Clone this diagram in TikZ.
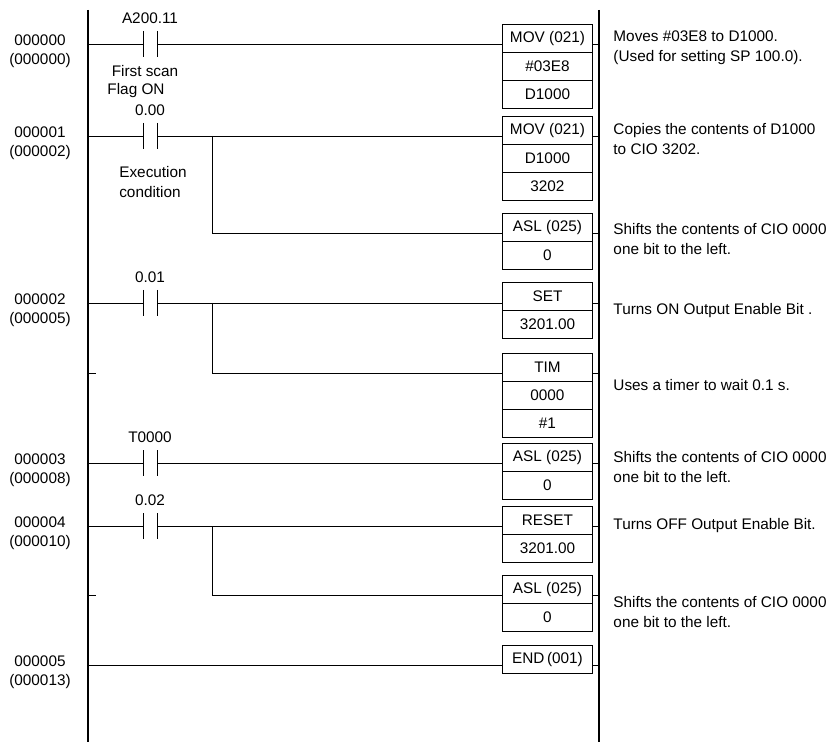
\documentclass[tikz,border=0pt]{standalone}
\usepackage{fontspec}
\setmainfont{Liberation Sans}
\usetikzlibrary{calc}

\tikzset{
	cell/.style={draw, minimum width=67.5pt, minimum height=21pt, inner sep=0pt, anchor=north west},
	note/.style={anchor=west, align=left, inner sep=0pt},
	wire/.style={line width=0.8pt}
}

\begin{document}
\begin{tikzpicture}[x=0.75pt, y=-0.75pt, font=\fontsize{11.5}{15}\selectfont, line width=0.7pt]
	\useasboundingbox (0,0) rectangle (831,748);
	% power rails
	\coordinate (lt) at (88,10);  \coordinate (lb) at (88,742);
	\coordinate (rt) at (599,10); \coordinate (rb) at (599,742);
	\draw[wire] (lt) -- (lb);
	\draw[wire] (rt) -- (rb);
	% instruction cells
	\foreach \top/\txt [count=\i] in {24/MOV (021), 52/\#03E8, 80/D1000,
		116/MOV (021), 144/D1000, 172/3202, 213/ASL (025), 241/0,
		282/SET, 310/3201.00, 353/TIM, 381/0000, 409/\#1, 443/ASL (025), 471/0,
		506/RESET, 534/3201.00, 575/ASL (025), 603/0, 645/END\,(001)}{
		\node[cell] (cell\i) at (502,\top) {\txt};
	}
	% rungs with a contact
	\foreach \y/\lbl/\num/\old in {44/A200.11/000000/000000, 136/0.00/000001/000002,
		303/0.01/000002/000005, 463/T0000/000003/000008, 526/0.02/000004/000010}{
		\coordinate (r) at (88,\y);
		\coordinate (ka) at (143,\y);
		\coordinate (kb) at (157,\y);
		\coordinate (b) at (502,\y);
		\draw (r) -- (ka);
		\draw (kb) -- (b);
		\draw ($(ka)+(0,-13)$) -- ($(ka)+(0,13)$);
		\draw ($(kb)+(0,-13)$) -- ($(kb)+(0,13)$);
		\node (lbl) at (150,\y-26) {\lbl};
		\node (num) at (40,\y-4) {\num};
		\node (old) at (40,\y+17) {(\old)};
	}
	% END rung
	\coordinate (e) at (88,665);
	\draw (e) -- (e -| cell20.west);
	\node at (40,661) {000005};
	\node at (40,682) {(000013)};
	% branches
	\foreach \ya/\yb in {136/233, 303/373, 526/595}{
		\coordinate (s) at (212,\ya);
		\coordinate (t) at (212,\yb);
		\draw (s) -- (t) -- (502,\yb);
	}
	\draw (88,373) -- (96,373);
	\draw (88,595) -- (96,595);
	% right stubs
	\foreach \y in {44,136,233,303,373,463,526,595,665}{
		\draw (592,\y) -- (599,\y);
	}
	% contact notes
	\node at (145,71) {First scan};
	\node at (136,91) {Flag ON};
	\node at (153,172) {Execution};
	\node at (150,192) {condition};
	% comments
	\node[note] at (613,48) {Moves \#03E8 to D1000.\\(Used for setting SP 100.0).};
	\node[note] at (613,139) {Copies the contents of D1000\\to CIO 3202.};
	\node[note] at (613,239) {Shifts the contents of CIO 0000\\one bit to the left.};
	\node[note] at (613,311) {Turns ON Output Enable Bit .};
	\node[note] at (613,385) {Uses a timer to wait 0.1 s.};
	\node[note] at (613,467) {Shifts the contents of CIO 0000\\one bit to the left.};
	\node[note] at (613,526) {Turns OFF Output Enable Bit.};
	\node[note] at (613,612) {Shifts the contents of CIO 0000\\one bit to the left.};
\end{tikzpicture}
\end{document}
